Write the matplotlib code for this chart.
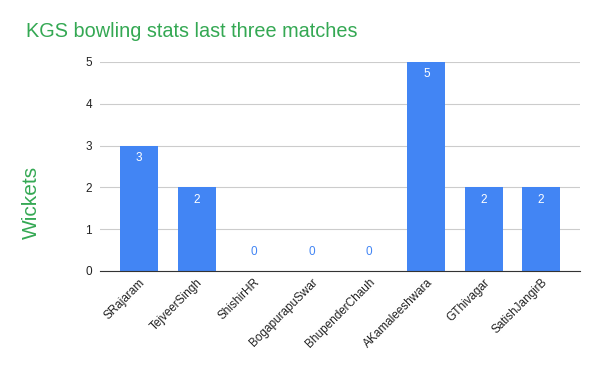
import matplotlib.pyplot as plt
import numpy as np

plt.rcParams['font.family'] = ['Liberation Sans', 'DejaVu Sans']

players = ['SRajaram', 'TejveerSingh', 'ShishirHR', 'BogapurapuSwar',
           'BhupenderChauh', 'AKamaleeshwara', 'GThivagar', 'SatishJangirB']
wickets = [3, 2, 0, 0, 0, 5, 2, 2]

blue = '#4285f4'
green = '#34a853'

fig = plt.figure(figsize=(6, 3.71), dpi=100)
ax = fig.add_axes([0.167, 0.27, 0.8, 0.563])

x = np.arange(len(players))
bars = ax.bar(x, wickets, width=0.66, color=blue, zorder=2)

for xi, v in zip(x, wickets):
    if v > 0:
        ax.text(xi, v - 0.15, str(v), ha='center', va='top', color='white', fontsize=8.5)
    else:
        ax.text(xi, 0.3, str(v), ha='center', va='bottom', color=blue, fontsize=8.5)

ax.set_xlim(-0.68, 7.68)
ax.set_ylim(0, 5)
ax.set_yticks(range(6))
ax.yaxis.grid(True, color='#cccccc', linewidth=0.8, zorder=0)
ax.set_axisbelow(True)
for s in ['top', 'right', 'left']:
    ax.spines[s].set_visible(False)
ax.spines['bottom'].set_color('#333333')
ax.spines['bottom'].set_zorder(3)
ax.tick_params(axis='y', length=0, labelsize=8.5, colors='#222222', pad=6)
ax.tick_params(axis='x', length=0, labelsize=8.5, colors='#222222', pad=4)
ax.set_xticks(x)
ax.set_xticklabels(players, rotation=45, ha='right', rotation_mode='anchor')

fig.text(0.052, 0.453, 'Wickets', color=green, fontsize=15, rotation=90,
         ha='center', va='center')
fig.text(0.043, 0.915, 'KGS bowling stats last three matches', color=green,
         fontsize=14.3, va='center', ha='left')

fig.savefig('out.png', dpi=100)
